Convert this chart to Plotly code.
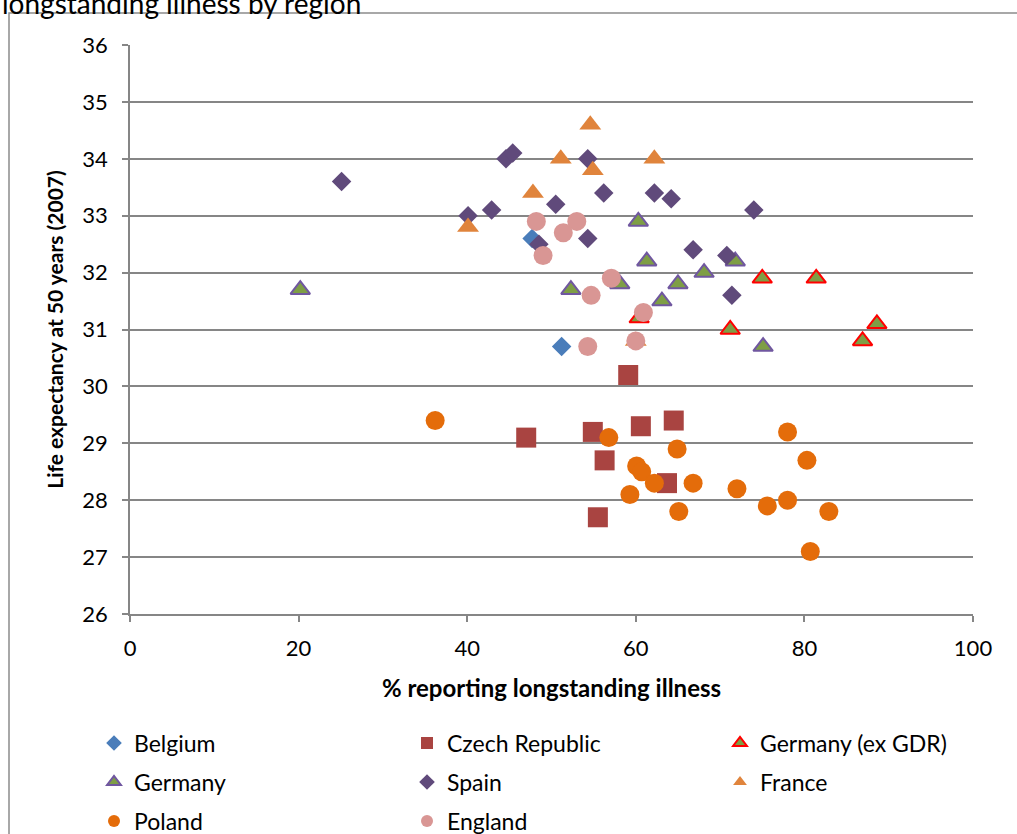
import plotly.graph_objects as go

# % reporting longstanding illness (x) vs life expectancy at 50 (y), by region
belgium_x = [47.7, 51.2]
belgium_y = [32.6, 30.7]

czech_x = [59.1, 47.0, 54.9, 60.6, 64.5, 56.3, 63.7, 55.5]
czech_y = [30.2, 29.1, 29.2, 29.3, 29.4, 28.7, 28.3, 27.7]

gdr_x = [75.0, 81.4, 71.2, 88.6, 86.9, 60.4]
gdr_y = [31.9, 31.9, 31.0, 31.1, 30.8, 31.2]

germany_x = [20.2, 60.3, 61.3, 52.3, 58.1, 63.1, 65.0, 68.1, 71.8, 75.1]
germany_y = [31.7, 32.9, 32.2, 31.7, 31.8, 31.5, 31.8, 32.0, 32.2, 30.7]

spain_x = [25.1, 40.1, 42.9, 44.6, 45.4, 50.5, 54.3, 56.2, 62.2, 64.2,
           48.5, 54.3, 66.8, 70.8, 71.4, 74.0]
spain_y = [33.6, 33.0, 33.1, 34.0, 34.1, 33.2, 34.0, 33.4, 33.4, 33.3,
           32.5, 32.6, 32.4, 32.3, 31.6, 33.1]

france_x = [54.6, 51.1, 62.2, 54.9, 47.8, 40.1, 60.0]
france_y = [34.6, 34.0, 34.0, 33.8, 33.4, 32.8, 30.8]

poland_x = [36.2, 56.8, 64.9, 60.1, 60.7, 62.2, 66.8, 59.3, 72.0, 65.1,
            75.6, 78.0, 78.0, 80.3, 82.9, 80.7]
poland_y = [29.4, 29.1, 28.9, 28.6, 28.5, 28.3, 28.3, 28.1, 28.2, 27.8,
            27.9, 28.0, 29.2, 28.7, 27.8, 27.1]

england_x = [48.2, 53.0, 51.4, 49.0, 57.1, 54.7, 60.9, 60.0, 54.3]
england_y = [32.9, 32.9, 32.7, 32.3, 31.9, 31.6, 31.3, 30.8, 30.7]

x_ticks = [0, 20, 40, 60, 80, 100]
y_ticks = [26, 27, 28, 29, 30, 31, 32, 33, 34, 35, 36]

FONT = "Lato"
GRID = "#868686"

W, H = 1017, 834
L, R, T, B = 130, 44, 45, 220
PW, PH = W - L - R, H - T - B


def px_x(p):
    return (p - L) / PW


def px_y(p):
    return (H - B - p) / PH


series = [
    ("Belgium", belgium_x, belgium_y,
     dict(symbol="diamond", size=15, color="#4A7DBA", line=dict(width=0)), "legend"),
    ("Czech Republic", czech_x, czech_y,
     dict(symbol="square", size=20, color="#A94441", line=dict(width=0)), "legend"),
    ("Germany (ex GDR)", gdr_x, gdr_y,
     dict(symbol="triangle-up", size=17, color="#7E9E45", line=dict(width=2, color="#FF0000")), "legend"),
    ("Germany", germany_x, germany_y,
     dict(symbol="triangle-up", size=17, color="#7E9E45", line=dict(width=2, color="#7057A0")), "legend2"),
    ("Spain", spain_x, spain_y,
     dict(symbol="diamond", size=15, color="#604A7B", line=dict(width=0)), "legend2"),
    ("France", france_x, france_y,
     dict(symbol="triangle-up", size=19, color="#E0843C", line=dict(width=0)), "legend2"),
    ("Poland", poland_x, poland_y,
     dict(symbol="circle", size=19, color="#E46C0A", line=dict(width=0)), "legend3"),
    ("England", england_x, england_y,
     dict(symbol="circle", size=19, color="#D99694", line=dict(width=0)), "legend3"),
]

fig = go.Figure()
for name, xs, ys, marker, leg in series:
    fig.add_trace(go.Scatter(x=xs, y=ys, mode="markers", name=name,
                             marker=marker, legend=leg))

legend_common = dict(
    orientation="h", xanchor="left", yanchor="middle",
    entrywidth=268, entrywidthmode="pixels", itemsizing="constant",
    font=dict(family=FONT, size=23, color="#000000"),
    bgcolor="rgba(0,0,0,0)", borderwidth=0,
    itemclick=False, itemdoubleclick=False,
)

fig.update_layout(
    width=W, height=H,
    margin=dict(l=L, r=R, t=T, b=B, autoexpand=False),
    paper_bgcolor="white", plot_bgcolor="white",
    font=dict(family=FONT, size=22, color="#000000"),
    showlegend=True,
    legend=dict(x=px_x(94), y=px_y(743), **legend_common),
    legend2=dict(x=px_x(94), y=px_y(782), **legend_common),
    legend3=dict(x=px_x(94), y=px_y(821), **legend_common),
    xaxis=dict(
        range=[0, 100], tickvals=x_ticks, ticks="outside", ticklen=6,
        tickcolor=GRID, tickwidth=1.5, showline=True, linecolor=GRID, linewidth=1.5,
        showgrid=False, zeroline=False, tickfont=dict(size=22),
        ticklabelstandoff=8,
        title=dict(text="<b>% reporting longstanding illness</b>",
                   font=dict(size=24), standoff=20),
    ),
    yaxis=dict(
        range=[26, 36], tickvals=y_ticks, ticks="outside", ticklen=6,
        tickcolor=GRID, tickwidth=1.5, showline=True, linecolor=GRID, linewidth=1.5,
        showgrid=True, gridcolor=GRID, gridwidth=1.5, zeroline=False,
        tickfont=dict(size=22), ticklabelstandoff=10,
        title=dict(text="<b>Life expectancy at 50 years (2007)</b>",
                   font=dict(size=21), standoff=13),
    ),
    shapes=[
        dict(type="rect", xref="paper", yref="paper",
             x0=px_x(9), x1=px_x(1030), y0=px_y(850), y1=px_y(13),
             line=dict(color="#8C8C8C", width=1.5), layer="below"),
    ],
    annotations=[
        dict(text="longstanding illness by region", xref="paper", yref="paper",
             x=px_x(0), y=px_y(3), xanchor="left", yanchor="middle",
             showarrow=False, font=dict(family=FONT, size=28, color="#000000")),
    ],
)

fig.write_html("out.html")
